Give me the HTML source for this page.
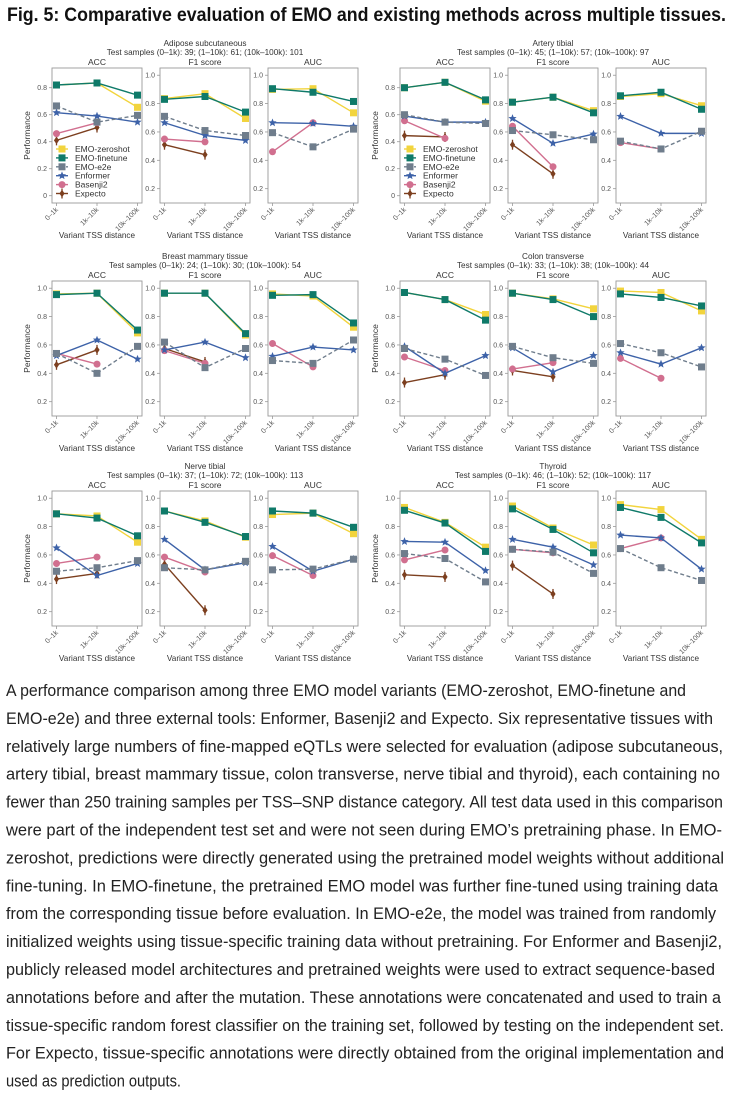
<!DOCTYPE html>
<html><head><meta charset="utf-8">
<style>
html,body{margin:0;padding:0;background:#fff;width:733px;height:1101px;overflow:hidden}
svg{display:block}
text{font-family:"Liberation Sans",sans-serif}
</style></head>
<body>
<svg id="fig" width="733" height="1101" viewBox="0 0 733 1101">
<text x="7" y="21" font-size="19" font-weight="bold" fill="#111" textLength="719" lengthAdjust="spacingAndGlyphs">Fig. 5: Comparative evaluation of EMO and existing methods across multiple tissues.</text>
<g id="charts"></g>
<g id="caption"></g>
</svg>
<script>
// ---- data ----
const categories = ["0–1k","1k–10k","10k–100k"];
const seriesNames = ["EMO-zeroshot","EMO-finetune","EMO-e2e","Enformer","Basenji2","Expecto"];
const tissues = ["Adipose subcutaneous","Artery tibial","Breast mammary tissue","Colon transverse","Nerve tibial","Thyroid"];
const sampleCounts = [[39,61,101],[45,57,97],[24,30,54],[33,38,44],[37,72,113],[46,52,117]];
const metrics = ["ACC","F1 score","AUC"];
const ticksRow1Acc = [0,0.2,0.4,0.6,0.8];
const ticksStd = [0.2,0.4,0.6,0.8,1.0];
// values[tissue][metric][series] = [v0,v1,v2]
const adipose = [
 [[0.82,0.835,0.655],[0.82,0.835,0.745],[0.665,0.545,0.595],[0.615,0.59,0.545],[0.46,0.54,null],[0.41,0.505,null]],
 [[0.835,0.87,0.695],[0.83,0.85,0.74],[0.71,0.61,0.575],[0.665,0.575,0.54],[0.55,0.53,null],[0.51,0.44,null]],
 [[0.90,0.905,0.735],[0.905,0.88,0.815],[0.595,0.495,0.62],[0.665,0.66,0.64],[0.46,0.665,null],[null,null,null]]];
const artery = [
 [[0.80,0.84,0.70],[0.80,0.84,0.71],[0.60,0.545,0.535],[0.59,0.545,0.545],[0.555,0.425,null],[0.445,0.435,null]],
 [[0.81,0.845,0.75],[0.81,0.845,0.735],[0.61,0.58,0.545],[0.695,0.52,0.585],[0.64,0.355,null],[0.51,0.305,null]],
 [[0.85,0.87,0.785],[0.855,0.88,0.76],[0.535,0.48,0.605],[0.71,0.59,0.59],[0.525,0.48,null],[null,null,null]]];
const breast = [
 [[0.96,0.965,0.685],[0.955,0.965,0.705],[0.54,0.40,0.59],[0.525,0.635,0.50],[0.54,0.465,null],[0.46,0.565,null]],
 [[0.965,0.965,0.67],[0.965,0.965,0.68],[0.62,0.44,0.575],[0.565,0.62,0.51],[0.56,0.47,null],[0.575,0.48,null]],
 [[0.96,0.945,0.725],[0.95,0.955,0.755],[0.49,0.47,0.635],[0.52,0.585,0.565],[0.61,0.445,null],[null,null,null]]];
const colon = [
 [[0.97,0.92,0.815],[0.97,0.92,0.775],[0.575,0.50,0.385],[0.59,0.40,0.525],[0.515,0.42,null],[0.335,0.39,null]],
 [[0.965,0.925,0.855],[0.965,0.92,0.80],[0.59,0.51,0.47],[0.58,0.41,0.525],[0.43,0.475,null],[0.42,0.375,null]],
 [[0.98,0.97,0.84],[0.96,0.935,0.875],[0.61,0.545,0.445],[0.545,0.465,0.58],[0.505,0.365,null],[null,null,null]]];
const nerve = [
 [[0.89,0.875,0.69],[0.89,0.86,0.735],[0.485,0.51,0.56],[0.65,0.455,0.54],[0.54,0.585,null],[0.43,0.47,null]],
 [[0.91,0.84,0.725],[0.91,0.83,0.73],[0.51,0.495,0.555],[0.71,0.495,0.545],[0.585,0.48,null],[0.535,0.21,null]],
 [[0.885,0.895,0.75],[0.91,0.895,0.795],[0.495,0.50,0.57],[0.66,0.485,0.57],[0.595,0.455,null],[null,null,null]]];
const thyroid = [
 [[0.935,0.83,0.655],[0.915,0.825,0.625],[0.61,0.575,0.41],[0.695,0.69,0.49],[0.565,0.635,null],[0.46,0.445,null]],
 [[0.945,0.79,0.67],[0.925,0.78,0.615],[0.64,0.62,0.47],[0.71,0.655,0.53],[0.64,0.615,null],[0.525,0.325,null]],
 [[0.955,0.92,0.71],[0.935,0.865,0.685],[0.645,0.51,0.42],[0.74,0.72,0.50],[0.645,0.72,null],[null,null,null]]];
const allValues = [adipose,artery,breast,colon,nerve,thyroid];

const NS="http://www.w3.org/2000/svg";
const colors=["#f2d43d","#0f7a69","#6f7d8c","#3d62a8","#d16f8f","#7c3f1f"];
const root=document.getElementById('charts');
function mk(tag,attrs,parent){const e=document.createElementNS(NS,tag);for(const k in attrs)e.setAttribute(k,attrs[k]);(parent||root).appendChild(e);return e;}

const groupX=[52,400], rowTop=[68,281,491], PW=90, PH=135, GAP=18;
const slug=s=>s.toLowerCase().replace(/[^a-z0-9]+/g,'-').replace(/-$/,'');

function marker(g,si,x,y){
  const c=colors[si];let m;
  if(si<=2){m=mk('rect',{x:x-3.5,y:y-3.5,width:7,height:7,fill:c},g);}
  else if(si===3){let p=[];for(let i=0;i<10;i++){const r=i%2?1.9:4.3,a=-Math.PI/2+i*Math.PI/5;p.push((x+r*Math.cos(a)).toFixed(2)+','+(y+r*Math.sin(a)).toFixed(2));}
    m=mk('polygon',{points:p.join(' '),fill:c},g);}
  else if(si===4){m=mk('circle',{cx:x,cy:y,r:3.5,fill:c},g);}
  else {mk('line',{x1:x,x2:x,y1:y-5,y2:y+5,stroke:c,'stroke-width':1.3},g);
    m=mk('polygon',{points:`${x},${y-3.8} ${x+2.6},${y} ${x},${y+3.8} ${x-2.6},${y}`,fill:c},g);}
  
  
}

allValues.forEach((tv,ti)=>{
  const gx=groupX[ti%2], top=rowTop[Math.floor(ti/2)], row=Math.floor(ti/2);
  const G=mk('g',{});
  
  
  const cx=gx+(3*PW+2*GAP)/2;
  const t1=mk('text',{x:cx,y:top-22,'font-size':8.2,'text-anchor':'middle',fill:'#333'},G);t1.textContent=tissues[ti];
  
  
  const sc=sampleCounts[ti];
  const t2=mk('text',{x:cx,y:top-13,'font-size':8.2,'text-anchor':'middle',fill:'#333'},G);
  t2.textContent=`Test samples (0–1k): ${sc[0]}; (1–10k): ${sc[1]}; (10k–100k): ${sc[2]}`;
  
  
  metrics.forEach((mname,mi)=>{
    const x0=gx+mi*(PW+GAP), x1=x0+PW, y0=top, y1=top+PH;
    const isAcc1=(row===0&&mi===0);
    const dmin=isAcc1?-0.054:0.099, dmax=isAcc1?0.946:1.051;
    const ys=v=>y1-(v-dmin)/(dmax-dmin)*PH;
    const xs=i=>x0+4.5+i*(PW-9)/2;
    const P=mk('g',{},G);
    
    
    const pt=mk('text',{x:(x0+x1)/2,y:y0-3,'font-size':8.5,'text-anchor':'middle',fill:'#333'},P);pt.textContent=mname;
    
    
    const fr=mk('rect',{x:x0,y:y0,width:PW,height:PH,fill:'none',stroke:'#999','stroke-width':0.9},P);
    
    
    (isAcc1?ticksRow1Acc:ticksStd).forEach(tv2=>{
      const y=ys(tv2);
      mk('line',{x1:x0-3,x2:x0,y1:y,y2:y,stroke:'#999','stroke-width':0.8},P);
      const tl=mk('text',{x:x0-5,y:y+2.5,'font-size':7,'text-anchor':'end',fill:'#555'},P);
      tl.textContent=tv2===0?'0':tv2.toFixed(1);
      
      
    });
    categories.forEach((c,i)=>{
      const x=xs(i);
      mk('line',{x1:x,x2:x,y1:y1,y2:y1+3,stroke:'#999','stroke-width':0.8},P);
      const xl=mk('text',{x:x+2,y:y1+7,'font-size':7,'text-anchor':'end',fill:'#555',transform:`rotate(-45 ${x+2} ${y1+7})`},P);
      xl.textContent=c;
      
      
    });
    const xt=mk('text',{x:(x0+x1)/2,y:y1+35,'font-size':8.2,'text-anchor':'middle',fill:'#333'},P);xt.textContent='Variant TSS distance';
    
    
    if(mi===0){
      const yy=(y0+y1)/2, yx=x0-22;
      const yt=mk('text',{x:yx,y:yy,'font-size':8.5,'text-anchor':'middle',fill:'#333',transform:`rotate(-90 ${yx} ${yy})`},P);yt.textContent='Performance';
      
      
    }
    const order=[5,4,3,2,0,1];
    order.forEach(si=>{
      const vals=tv[mi][si];
      const S=mk('g',{},P);
      
      
      const pts=[];vals.forEach((v,i)=>{if(v!==null)pts.push([xs(i),ys(v)]);});
      if(pts.length>1){
        const pl=mk('polyline',{points:pts.map(p=>p.join(',')).join(' '),fill:'none',stroke:colors[si],'stroke-width':1.4,'stroke-dasharray':si===2?'4,2.5':'none'},S);
        
        
      }
      pts.forEach(p=>marker(S,si,p[0],p[1]));
    });
    if(row===0&&mi===0){
      const L=mk('g',{},P);
      
      
      seriesNames.forEach((n,si)=>{
        const ly=149+si*8.9, lx=x0+10;
        const E=mk('g',{},L);
        
        
        mk('line',{x1:lx-6,x2:lx+6,y1:ly,y2:ly,stroke:colors[si],'stroke-width':1.4,'stroke-dasharray':si===2?'3,2':'none'},E);
        marker(E,si,lx,ly);
        const lt=mk('text',{x:lx+13,y:ly+3,'font-size':8.5,fill:'#333'},E);lt.textContent=n;
        
        
      });
    }
  });
});

// caption
const captionLines=[
["A performance comparison among three EMO model variants (EMO-zeroshot, EMO-finetune and",680],
["EMO-e2e) and three external tools: Enformer, Basenji2 and Expecto. Six representative tissues with",707],
["relatively large numbers of fine-mapped eQTLs were selected for evaluation (adipose subcutaneous,",717],
["artery tibial, breast mammary tissue, colon transverse, nerve tibial and thyroid), each containing no",714],
["fewer than 250 training samples per TSS–SNP distance category. All test data used in this comparison",717],
["were part of the independent test set and were not seen during EMO’s pretraining phase. In EMO-",716],
["zeroshot, predictions were directly generated using the pretrained model weights without additional",718],
["fine-tuning. In EMO-finetune, the pretrained EMO model was further fine-tuned using training data",712],
["from the corresponding tissue before evaluation. In EMO-e2e, the model was trained from randomly",710],
["initialized weights using tissue-specific training data without pretraining. For Enformer and Basenji2,",716],
["publicly released model architectures and pretrained weights were used to extract sequence-based",709],
["annotations before and after the mutation. These annotations were concatenated and used to train a",715],
["tissue-specific random forest classifier on the training set, followed by testing on the independent set.",718],
["For Expecto, tissue-specific annotations were directly obtained from the original implementation and",718],
["used as prediction outputs.",175]];
const cap=document.getElementById('caption');
captionLines.forEach((l,i)=>{
  const t=document.createElementNS(NS,'text');
  t.setAttribute('x',6);t.setAttribute('y',(696+i*27.9).toFixed(1));
  t.setAttribute('font-size','16.5');t.setAttribute('fill','#222');
  t.setAttribute('textLength',l[1]);t.setAttribute('lengthAdjust','spacingAndGlyphs');
  t.textContent=l[0];
  
  
  cap.appendChild(t);
});
</script>
</body></html>
